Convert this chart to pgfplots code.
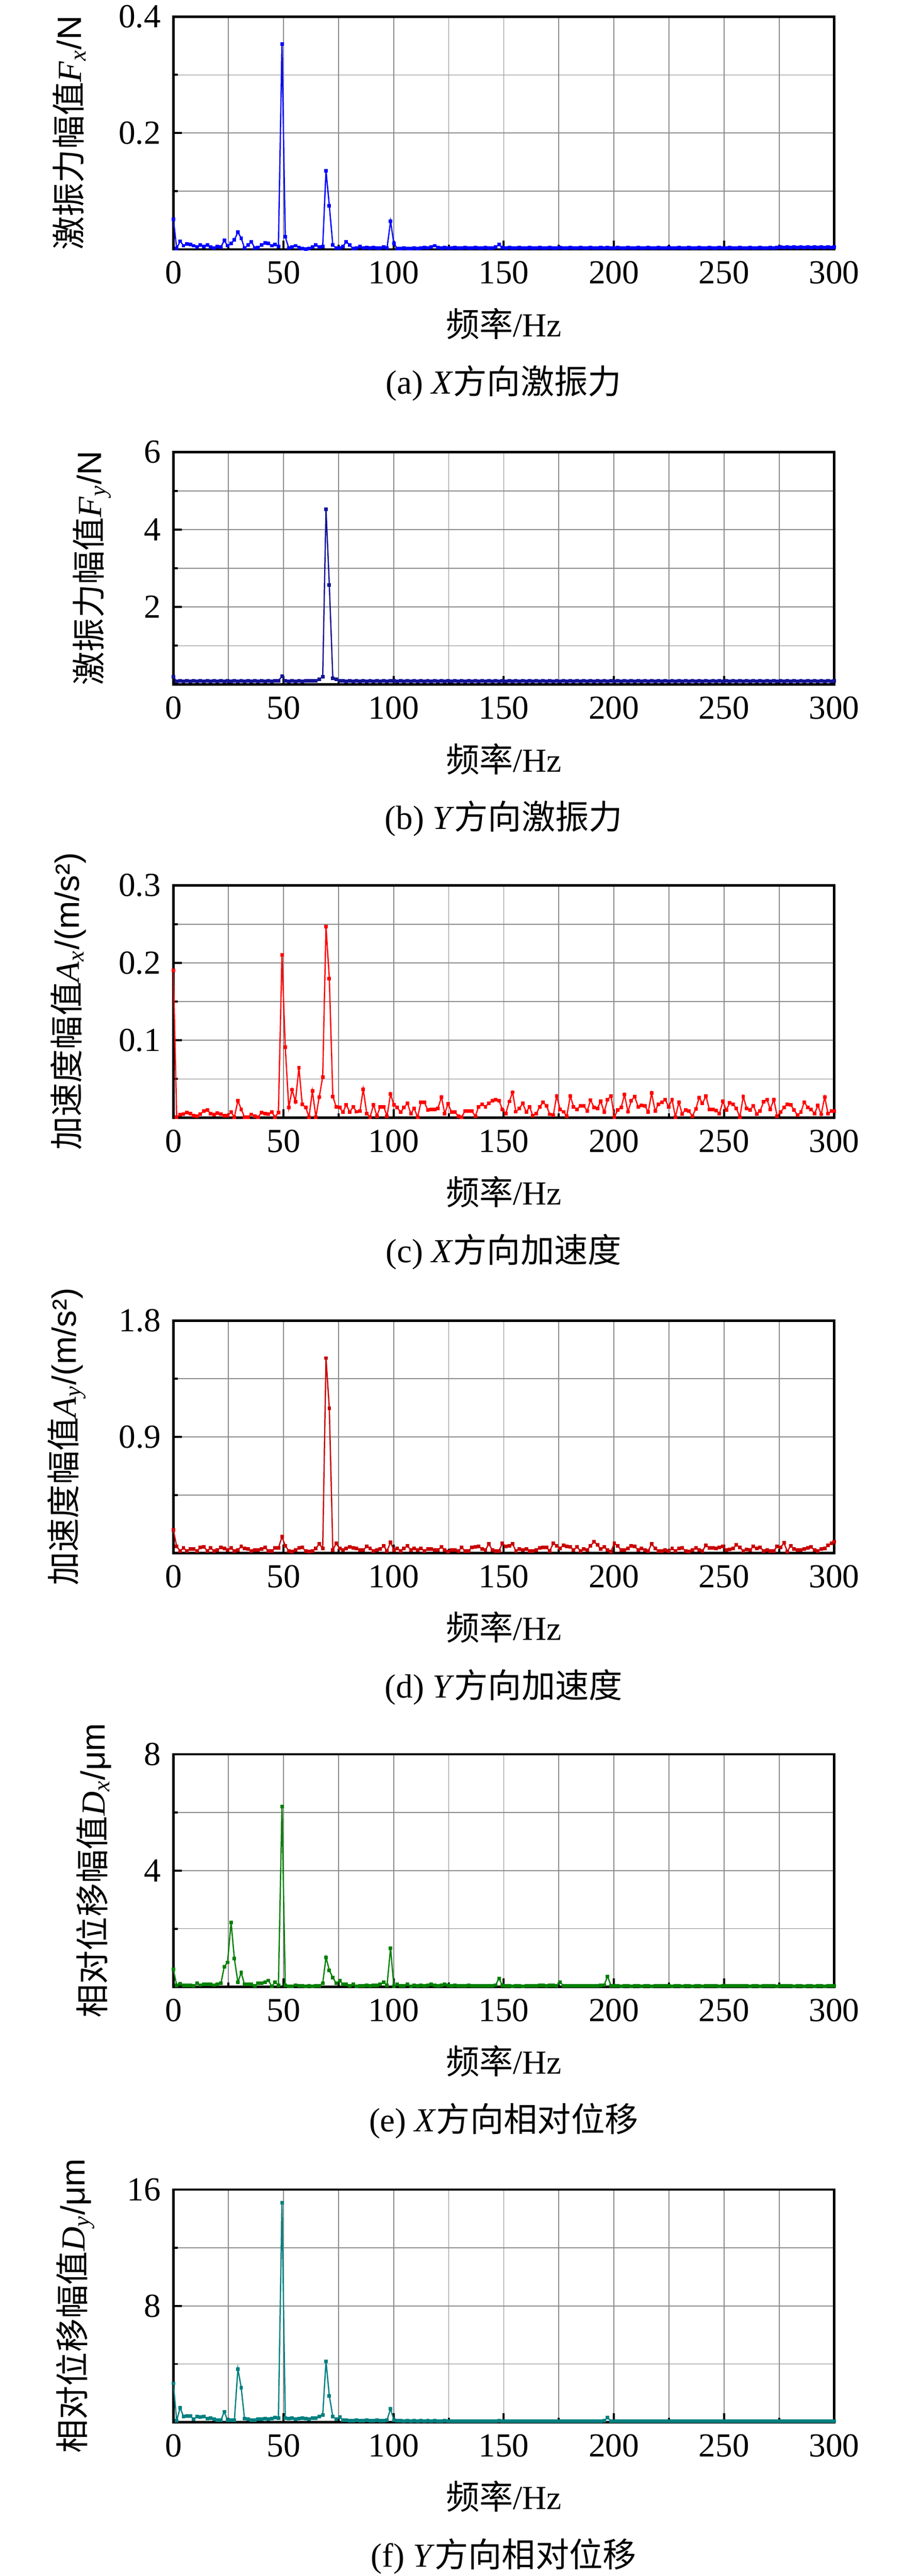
\documentclass[border=0pt]{standalone}
\usepackage{fontspec}
\setmainfont{Liberation Serif}
\setsansfont{Liberation Sans}
\newfontfamily\cjk{Noto Sans CJK SC}
\usepackage{pgfplots}
\usepackage{pgfplotstable}
\pgfplotsset{compat=1.18}
\definecolor{ca}{RGB}{0,0,255}
\definecolor{cb}{RGB}{20,20,150}
\definecolor{cc}{RGB}{255,0,0}
\definecolor{cd}{RGB}{200,0,0}
\definecolor{ce}{RGB}{0,128,0}
\definecolor{cf}{RGB}{0,128,128}
\newcommand{\fs}{\fontsize{13.2}{15.8}\selectfont}

\pgfplotstableread{
x a b c d e f
0.0 0.052 0.20 0.19 0.18 0.60 2.67
1.5 0.0015 0.08 0.001 0.05 0.05 0.10
3.1 0.014 0.09 0.004 0.017 0.10 1.00
4.6 0.006 0.08 0.005 0.039 0.05 0.38
6.2 0.009 0.09 0.0066 0.017 0.05 0.42
7.7 0.008 0.08 0.0055 0.030 0.05 0.42
9.2 0.006 0.09 0.0026 0.030 0.04 0.19
10.8 0.004 0.08 0.002 0.017 0.12 0.38
12.3 0.007 0.09 0.005 0.043 0.06 0.34
13.9 0.005 0.08 0.0088 0.047 0.08 0.38
15.4 0.007 0.09 0.0099 0.017 0.08 0.23
16.9 0.004 0.08 0.0055 0.039 0.08 0.29
18.5 0.002 0.09 0.004 0.017 0.06 0.19
20.0 0.005 0.08 0.006 0.024 0.08 0.13
21.6 0.004 0.09 0.005 0.043 0.12 0.13
23.1 0.015 0.08 0.003 0.037 0.69 0.72
24.6 0.006 0.09 0.0026 0.024 0.84 0.13
26.2 0.010 0.08 0.0073 0.039 2.22 0.13
27.7 0.016 0.09 0.001 0.017 0.97 0.13
29.3 0.0295 0.08 0.022 0.024 0.16 3.66
30.8 0.019 0.09 0.011 0.05 0.49 2.38
32.3 0.002 0.08 0.001 0.034 0.08 0.23
33.9 0.007 0.09 0.001 0.030 0.08 0.19
35.4 0.013 0.08 0.0044 0.017 0.08 0.15
37.0 0.002 0.09 0.0022 0.024 0.04 0.15
38.5 0.003 0.08 0.001 0.024 0.12 0.19
40.0 0.007 0.09 0.007 0.030 0.13 0.19
41.6 0.011 0.08 0.0055 0.043 0.15 0.23
43.1 0.010 0.09 0.005 0.017 0.22 0.19
44.7 0.006 0.08 0.0073 0.017 0.02 0.23
46.2 0.008 0.09 0.001 0.039 0.16 0.32
47.7 0.005 0.10 0.007 0.039 0.05 0.28
49.3 0.353 0.21 0.210 0.126 6.21 15.1
50.8 0.0215 0.09 0.091 0.057 0.05 0.28
52.4 0.002 0.08 0.0132 0.017 0.02 0.23
53.9 0.004 0.09 0.0363 0.013 0.02 0.28
55.4 0.006 0.08 0.0209 0.024 0.06 0.19
57.0 0.003 0.09 0.0644 0.039 0.04 0.23
58.5 0.0015 0.08 0.0176 0.043 0.04 0.28
60.1 0.0005 0.09 0.0132 0.017 0.02 0.23
61.6 0.0015 0.09 0.001 0.013 0.04 0.19
63.1 0.004 0.10 0.0345 0.017 0.02 0.28
64.7 0.007 0.10 0.001 0.037 0.04 0.28
66.2 0.004 0.14 0.0264 0.07 0.04 0.38
67.8 0.005 0.20 0.0527 0.037 0.12 0.48
69.3 0.135 4.52 0.2466 1.51 1.01 4.19
70.8 0.075 2.57 0.1798 1.12 0.57 1.81
72.4 0.007 0.16 0.0275 0.024 0.31 0.38
73.9 0.002 0.13 0.0143 0.074 0.13 0.19
75.5 0.002 0.10 0.0132 0.037 0.21 0.34
77.0 0.005 0.09 0.0073 0.024 0.08 0.15
78.5 0.013 0.08 0.0169 0.037 0.08 0.15
80.1 0.007 0.09 0.0073 0.047 0.04 0.10
81.6 0.001 0.08 0.0143 0.039 0.09 0.10
83.2 0.002 0.09 0.0077 0.037 0.02 0.12
84.7 0.005 0.08 0.0084 0.024 0.04 0.10
86.2 0.002 0.09 0.0369 0.024 0.04 0.10
87.8 0.003 0.08 0.0055 0.05 0.05 0.12
89.3 0.002 0.09 0.001 0.037 0.04 0.10
90.9 0.003 0.08 0.0169 0.017 0.05 0.10
92.4 0.002 0.09 0.0022 0.024 0.05 0.12
93.9 0.002 0.08 0.0143 0.030 0.09 0.10
95.5 0.004 0.09 0.0143 0.054 0.16 0.10
97.0 0.002 0.08 0.0022 0.017 0.05 0.15
98.6 0.048 0.10 0.0308 0.083 1.33 0.91
100.1 0.010 0.09 0.0165 0.024 0.02 0.15
101.6 0.0015 0.08 0.0132 0.037 0.09 0.10
103.2 0.0015 0.09 0.0073 0.017 0.04 0.10
104.7 0.002 0.08 0.0132 0.037 0.04 0.08
106.3 0.0015 0.09 0.0187 0.054 0.08 0.10
107.8 0.0015 0.08 0.0055 0.024 0.02 0.08
109.3 0.002 0.09 0.0121 0.037 0.05 0.10
110.9 0.0015 0.08 0.001 0.024 0.04 0.08
112.4 0.002 0.09 0.0202 0.037 0.05 0.10
114.0 0.003 0.08 0.0198 0.017 0.04 0.08
115.5 0.002 0.09 0.0099 0.030 0.05 0.10
117.0 0.004 0.08 0.0105 0.030 0.08 0.08
118.6 0.006 0.09 0.0105 0.024 0.05 0.10
120.1 0.003 0.08 0.0121 0.024 0.04 0.08
121.7 0.002 0.09 0.0268 0.047 0.05 0.08
123.2 0.003 0.08 0.0055 0.024 0.09 0.10
124.7 0.002 0.09 0.018 0.013 0.05 0.08
126.3 0.002 0.08 0.0073 0.024 0.04 0.08
127.8 0.003 0.09 0.0073 0.024 0.05 0.08
129.4 0.002 0.08 0.0022 0.017 0.04 0.06
130.9 0.002 0.09 0.001 0.043 0.03 0.08
132.4 0.003 0.08 0.0088 0.017 0.04 0.06
134.0 0.002 0.09 0.0088 0.017 0.05 0.08
135.5 0.002 0.08 0.0088 0.043 0.04 0.06
137.1 0.003 0.09 0.0022 0.047 0.03 0.08
138.6 0.002 0.08 0.0143 0.053 0.04 0.06
140.1 0.002 0.09 0.0176 0.030 0.04 0.08
141.7 0.003 0.08 0.0143 0.024 0.03 0.06
143.2 0.002 0.09 0.0187 0.07 0.04 0.08
144.8 0.002 0.08 0.022 0.024 0.04 0.06
146.3 0.004 0.09 0.0231 0.017 0.06 0.08
147.8 0.008 0.08 0.022 0.017 0.29 0.10
149.4 0.003 0.09 0.011 0.076 0.05 0.06
150.9 0.002 0.08 0.0055 0.05 0.03 0.08
152.5 0.003 0.09 0.021 0.057 0.03 0.06
154.0 0.002 0.08 0.033 0.07 0.02 0.08
155.5 0.002 0.09 0.0077 0.017 0.03 0.06
157.1 0.003 0.08 0.012 0.030 0.03 0.06
158.6 0.002 0.09 0.0187 0.024 0.02 0.08
160.2 0.002 0.08 0.0073 0.030 0.03 0.06
161.7 0.003 0.09 0.0143 0.017 0.04 0.06
163.2 0.002 0.08 0.0026 0.017 0.03 0.08
164.8 0.002 0.09 0.0055 0.024 0.03 0.06
166.3 0.003 0.08 0.0143 0.041 0.05 0.06
167.9 0.002 0.09 0.0198 0.043 0.05 0.08
169.4 0.002 0.08 0.0154 0.043 0.04 0.06
170.9 0.003 0.09 0.0044 0.017 0.05 0.06
172.5 0.002 0.08 0.0033 0.076 0.05 0.08
174.0 0.002 0.09 0.028 0.057 0.04 0.06
175.6 0.003 0.08 0.011 0.037 0.15 0.08
177.1 0.002 0.09 0.0077 0.061 0.04 0.06
178.6 0.002 0.08 0.0022 0.05 0.03 0.06
180.2 0.003 0.09 0.028 0.047 0.03 0.08
181.7 0.002 0.08 0.0143 0.024 0.04 0.06
183.3 0.002 0.09 0.011 0.047 0.03 0.06
184.8 0.003 0.08 0.0154 0.017 0.03 0.08
186.3 0.002 0.09 0.0154 0.030 0.04 0.06
187.9 0.002 0.08 0.0088 0.024 0.03 0.06
189.4 0.003 0.09 0.023 0.057 0.03 0.08
191.0 0.002 0.08 0.0132 0.087 0.04 0.06
192.5 0.002 0.09 0.012 0.063 0.03 0.06
194.0 0.003 0.08 0.0213 0.030 0.05 0.08
195.6 0.002 0.09 0.0073 0.047 0.06 0.10
197.1 0.003 0.08 0.0235 0.024 0.36 0.30
198.7 0.002 0.09 0.028 0.013 0.04 0.08
200.2 0.002 0.08 0.001 0.076 0.03 0.06
201.7 0.003 0.09 0.0099 0.054 0.03 0.06
203.3 0.002 0.08 0.0132 0.024 0.02 0.06
204.8 0.002 0.09 0.0297 0.024 0.03 0.06
206.4 0.003 0.08 0.0077 0.037 0.03 0.06
207.9 0.002 0.09 0.022 0.057 0.02 0.06
209.4 0.002 0.08 0.0275 0.053 0.03 0.06
211.0 0.003 0.09 0.0143 0.024 0.03 0.06
212.5 0.002 0.08 0.016 0.037 0.02 0.06
214.1 0.002 0.09 0.0154 0.024 0.03 0.06
215.6 0.003 0.08 0.0073 0.017 0.03 0.06
217.1 0.002 0.09 0.0319 0.07 0.02 0.06
218.7 0.002 0.08 0.0088 0.037 0.03 0.06
220.2 0.003 0.09 0.0176 0.017 0.03 0.06
221.8 0.002 0.08 0.0198 0.017 0.04 0.06
223.3 0.002 0.09 0.0235 0.024 0.03 0.06
224.8 0.003 0.08 0.0143 0.017 0.03 0.06
226.4 0.002 0.09 0.0235 0.034 0.02 0.06
227.9 0.002 0.08 0.001 0.017 0.03 0.06
229.5 0.003 0.09 0.0198 0.034 0.03 0.06
231.0 0.002 0.08 0.005 0.041 0.02 0.06
232.5 0.002 0.09 0.0103 0.017 0.03 0.06
234.1 0.003 0.08 0.0084 0.013 0.03 0.06
235.6 0.002 0.09 0.0022 0.024 0.02 0.06
237.2 0.002 0.08 0.0114 0.041 0.03 0.06
238.7 0.003 0.09 0.026 0.024 0.03 0.06
240.2 0.002 0.08 0.0187 0.017 0.02 0.06
241.8 0.002 0.09 0.028 0.061 0.03 0.06
243.3 0.003 0.08 0.011 0.041 0.03 0.06
244.9 0.002 0.09 0.011 0.041 0.03 0.06
246.4 0.002 0.08 0.0095 0.037 0.03 0.06
247.9 0.003 0.09 0.0055 0.043 0.02 0.06
249.5 0.002 0.08 0.0213 0.05 0.03 0.06
251.0 0.002 0.09 0.0099 0.024 0.04 0.06
252.6 0.003 0.08 0.0193 0.029 0.03 0.06
254.1 0.002 0.09 0.0176 0.037 0.03 0.06
255.6 0.002 0.08 0.012 0.063 0.03 0.06
257.2 0.003 0.09 0.001 0.043 0.03 0.06
258.7 0.002 0.08 0.0275 0.017 0.03 0.06
260.3 0.002 0.09 0.012 0.029 0.03 0.06
261.8 0.003 0.08 0.0103 0.024 0.02 0.06
263.3 0.002 0.09 0.0154 0.053 0.03 0.06
264.9 0.002 0.08 0.005 0.037 0.03 0.06
266.4 0.003 0.09 0.0088 0.043 0.02 0.06
268.0 0.002 0.08 0.0209 0.017 0.03 0.06
269.5 0.002 0.09 0.0235 0.024 0.03 0.06
271.0 0.003 0.08 0.011 0.017 0.03 0.06
272.6 0.002 0.09 0.0235 0.017 0.03 0.06
274.1 0.003 0.08 0.0022 0.053 0.02 0.06
275.7 0.004 0.09 0.0073 0.043 0.03 0.06
277.2 0.003 0.08 0.0132 0.079 0.04 0.06
278.7 0.004 0.09 0.0176 0.013 0.03 0.06
280.3 0.003 0.08 0.0165 0.057 0.03 0.06
281.8 0.004 0.09 0.0099 0.030 0.02 0.06
283.4 0.003 0.08 0.0033 0.024 0.03 0.06
284.9 0.004 0.09 0.0073 0.024 0.03 0.06
286.4 0.003 0.08 0.0202 0.030 0.02 0.06
288.0 0.004 0.09 0.0132 0.039 0.03 0.06
289.5 0.003 0.08 0.011 0.047 0.03 0.06
291.1 0.004 0.09 0.0055 0.024 0.02 0.06
292.6 0.003 0.08 0.0158 0.017 0.03 0.06
294.1 0.004 0.09 0.0044 0.030 0.03 0.06
295.7 0.003 0.08 0.0268 0.037 0.02 0.06
297.2 0.004 0.09 0.0055 0.061 0.03 0.06
298.8 0.003 0.08 0.0084 0.076 0.03 0.06
300.0 0.004 0.09 0.0088 0.087 0.03 0.06
}\spec

\pgfplotsset{
  panel/.style={
    scale only axis, width=259.2pt, height=91.2pt,
    anchor=north west,
    xmin=0, xmax=300, ymin=0,
    xtick={0,50,...,300}, minor xtick={25,75,...,275},
    grid=both,
    major grid style={black!45, line width=0.35pt},
    minor grid style={black!45, line width=0.35pt},
    axis line style={black, line width=0.9pt},
    tick style={black, line width=0.8pt},
    major tick length=3.4pt, minor tick length=1.7pt,
    tick pos=left, tick align=inside,
    /pgf/number format/assume math mode=true,
    ticklabel style={font=\fs},
    xticklabel style={yshift=-1.2pt},
    yticklabel style={xshift=-1.4pt},
    label style={font=\fs},
    xlabel={{\cjk 频率}/Hz},
    xlabel style={at={(axis description cs:0.5,0)}, anchor=center, yshift=-29.2pt},
    ylabel shift=6pt,
    every axis plot/.append style={mark=square*, mark size=0.45pt, line width=0.5pt},
  }
}

\begin{document}
\begin{tikzpicture}[font=\fs]
\path[use as bounding box] (0,0) rectangle (354.4pt,-1010.8pt);

\begin{axis}[panel, name=pa, at={(68pt,-6.6pt)}, ymax=0.4,
  ytick={0.2,0.4}, minor ytick={0.1,0.3},
  ylabel={{\cjk 激振力幅值}\textit{F}\textsubscript{\textit{x}}{\sffamily /N}}]
\addplot[color=ca, mark options={fill=ca}] table[x=x, y=a] {\spec};
\end{axis}
\node[yshift=-52.6pt] at (pa.south) {(a) \textit{X}{\cjk 方向激振力}};

\begin{axis}[panel, name=pb, at={(68pt,-177.4pt)}, ymax=6,
  ytick={2,4,6}, minor ytick={1,3,5},
  ylabel={{\cjk 激振力幅值}\textit{F}\textsubscript{\textit{y}}{\sffamily /N}}]
\addplot[color=cb, mark options={fill=cb}] table[x=x, y=b] {\spec};
\end{axis}
\node[yshift=-52.6pt] at (pb.south) {(b) \textit{Y}{\cjk 方向激振力}};

\begin{axis}[panel, name=pc, at={(68pt,-347.4pt)}, ymax=0.3,
  ytick={0.1,0.2,0.3}, minor ytick={0.05,0.15,0.25},
  ylabel={{\cjk 加速度幅值}\textit{A}\textsubscript{\textit{x}}{\sffamily /(m/s²)}}]
\addplot[color=cc, mark options={fill=cc}] table[x=x, y=c] {\spec};
\end{axis}
\node[yshift=-52.6pt] at (pc.south) {(c) \textit{X}{\cjk 方向加速度}};

\begin{axis}[panel, name=pd, at={(68pt,-518.2pt)}, ymax=1.8,
  ytick={0.9,1.8}, minor ytick={0.45,1.35},
  ylabel={{\cjk 加速度幅值}\textit{A}\textsubscript{\textit{y}}{\sffamily /(m/s²)}}]
\addplot[color=cd, mark options={fill=cd}] table[x=x, y=d] {\spec};
\end{axis}
\node[yshift=-52.6pt] at (pd.south) {(d) \textit{Y}{\cjk 方向加速度}};

\begin{axis}[panel, name=pe, at={(68pt,-688.4pt)}, ymax=8,
  ytick={4,8}, minor ytick={2,6},
  ylabel={{\cjk 相对位移幅值}\textit{D}\textsubscript{\textit{x}}{\sffamily /μm}}]
\addplot[color=ce, mark options={fill=ce}] table[x=x, y=e] {\spec};
\end{axis}
\node[yshift=-52.6pt] at (pe.south) {(e) \textit{X}{\cjk 方向相对位移}};

\begin{axis}[panel, name=pf, at={(68pt,-859.2pt)}, ymax=16,
  ytick={8,16}, minor ytick={4,12},
  ylabel={{\cjk 相对位移幅值}\textit{D}\textsubscript{\textit{y}}{\sffamily /μm}}]
\addplot[color=cf, mark options={fill=cf}] table[x=x, y=f] {\spec};
\end{axis}
\node[yshift=-52.6pt] at (pf.south) {(f) \textit{Y}{\cjk 方向相对位移}};
\end{tikzpicture}
\end{document}
